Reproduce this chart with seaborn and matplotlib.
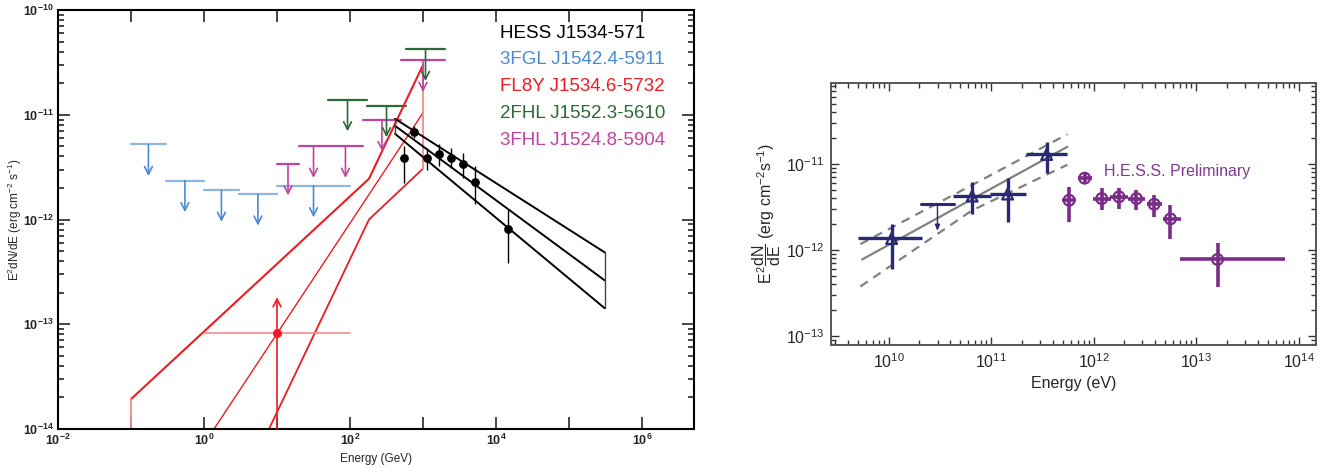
import numpy as np
import matplotlib
matplotlib.use("Agg")
import matplotlib.pyplot as plt
import matplotlib.ticker as mticker
import seaborn as sns

# ==============================
# LEFT PANEL DATA (E in GeV, E^2 dN/dE in erg cm^-2 s^-1)
# ==============================
hess_E = [550, 753, 1135, 1657, 2420, 3532, 5152, 14590]
hess_F = [3.89e-12, 6.89e-12, 3.89e-12, 4.25e-12, 3.89e-12, 3.41e-12, 2.30e-12, 8.04e-13]
hess_F_hi = [5.07e-12, 7.85e-12, 4.85e-12, 5.30e-12, 4.85e-12, 4.35e-12, 3.27e-12, 1.22e-12]
hess_F_lo = [2.25e-12, 6.04e-12, 2.99e-12, 3.27e-12, 3.13e-12, 2.51e-12, 1.42e-12, 3.81e-13]

bfly_E = [413, 3.09e5]
bfly_top = [9.16e-12, 4.85e-13]
bfly_mid = [7.85e-12, 2.62e-13]
bfly_bot = [6.59e-12, 1.42e-13]

fgl3_lo = [0.1, 0.3, 1, 3, 10]
fgl3_hi = [0.3, 1, 3, 10, 100]
fgl3_ul = [5.2e-12, 2.35e-12, 1.9e-12, 1.75e-12, 2.1e-12]

fhl3_lo = [10, 20, 50, 150, 500]
fhl3_hi = [20, 50, 150, 500, 2000]
fhl3_ul = [3.4e-12, 5.0e-12, 5.0e-12, 9.0e-12, 3.3e-11]

fhl2_lo = [50, 171, 585]
fhl2_hi = [171, 585, 2000]
fhl2_ul = [1.39e-11, 1.22e-11, 4.2e-11]

fl8y_up_E = [0.1, 0.1, 182, 1000]
fl8y_up_F = [1e-14, 1.93e-14, 2.45e-12, 2.99e-11]
fl8y_mid_E = [1.37, 1000]
fl8y_mid_F = [1e-14, 1.045e-11]
fl8y_low_E = [7.76, 182, 1000, 1000]
fl8y_low_F = [1e-14, 1.0e-12, 3.06e-12, 2.99e-11]
fl8y_pt = [10, 8.2e-14]          # E, flux
fl8y_pt_xbar = [1, 100]
fl8y_pt_vbar = [1e-14, 1.81e-13]

labels_left = ["HESS J1534-571", "3FGL J1542.4-5911", "FL8Y J1534.6-5732",
               "2FHL J1552.3-5610", "3FHL J1524.8-5904"]

# ==============================
# RIGHT PANEL DATA (E in eV)
# ==============================
fermi_E = [1.07e10, 6.53e10, 1.45e11, 3.48e11]
fermi_E_lo = [5.05e9, 4.28e10, 9.8e10, 2.18e11]
fermi_E_hi = [2.11e10, 1.0e11, 2.18e11, 5.55e11]
fermi_F = [1.36e-12, 4.23e-12, 4.47e-12, 1.29e-11]
fermi_F_lo = [6.07e-13, 2.59e-12, 2.1e-12, 7.83e-12]
fermi_F_hi = [2.01e-12, 6.13e-12, 6.84e-12, 1.8e-11]
fermi_ul_E = [2.06e10, 4.36e10]
fermi_ul_F = [3.46e-12, 1.67e-12]   # bar, arrow tip

fit_E = [5.52e9, 5.55e11]
fit_F = [7.76e-13, 1.585e-11]
fit_band_E = [5.3e9, 6.53e10, 5.55e11]
fit_band_hi = [1.17e-12, 5.7e-12, 2.22e-11]
fit_band_lo = [3.76e-13, 2.89e-12, 9.8e-12]

hr_E = [5.77e11, 8.18e11, 1.2e12, 1.77e12, 2.62e12, 3.9e12, 5.62e12, 1.62e13]
hr_E_lo = [4.9e11, 7.08e11, 9.95e11, 1.45e12, 2.17e12, 3.31e12, 4.79e12, 6.9e12]
hr_E_hi = [6.79e11, 9.6e11, 1.47e12, 2.17e12, 3.19e12, 4.68e12, 7.18e12, 7.3e13]
hr_F = [3.79e-12, 6.84e-12, 3.96e-12, 4.15e-12, 3.96e-12, 3.4e-12, 2.3e-12, 7.76e-13]
hr_F_hi = [5.45e-12, 7.76e-12, 5.21e-12, 5.21e-12, 4.97e-12, 4.35e-12, 3.31e-12, 1.22e-12]
hr_F_lo = [2.1e-12, 6.03e-12, 2.89e-12, 3.02e-12, 2.89e-12, 2.41e-12, 1.34e-12, 3.76e-13]

# ==============================
# STYLE
# ==============================
sns.set_style("ticks")
plt.rcParams["font.family"] = ["Liberation Sans", "DejaVu Sans"]
plt.rcParams["mathtext.fontset"] = "custom"
plt.rcParams["mathtext.rm"] = "Liberation Sans"
plt.rcParams["mathtext.it"] = "Liberation Sans"
plt.rcParams["mathtext.bf"] = "Liberation Sans:bold"

BLUE, BLUE_L = "#4a8ad2", "#8db6e4"
MAG, MAG_L = "#c0449e", "#d98cc6"
GREEN = "#2b6a37"
RED, RED_L = "#ec1c24", "#f38a8e"
NAVY = "#2a2a74"
PURPLE = "#7b2b88"

fig = plt.figure(figsize=(13.41, 4.68), dpi=100)
ax1 = fig.add_axes([58 / 1341, 1 - 429 / 468, 636 / 1341, 419 / 468])
ax2 = fig.add_axes([831 / 1341, 1 - 345 / 468, 485 / 1341, 262 / 468])


def upper_limit(ax, lo, hi, flux, color, bar_color):
    xc = np.sqrt(lo * hi)
    ax.plot([lo, hi], [flux, flux], color=bar_color, lw=1.6)
    ax.annotate("", xy=(xc, flux * 0.5), xytext=(xc, flux),
                arrowprops=dict(arrowstyle="->,head_length=0.55,head_width=0.28",
                                color=color, lw=1.2, shrinkA=0, shrinkB=0))


# ==============================
# LEFT PANEL
# ==============================
for lo, hi, f in zip(fgl3_lo, fgl3_hi, fgl3_ul):
    upper_limit(ax1, lo, hi, f, BLUE, BLUE_L)
for lo, hi, f in zip(fhl3_lo, fhl3_hi, fhl3_ul):
    upper_limit(ax1, lo, hi, f, MAG, MAG)
for lo, hi, f in zip(fhl2_lo, fhl2_hi, fhl2_ul):
    upper_limit(ax1, lo, hi, f, GREEN, GREEN)

# FL8Y butterfly
ax1.plot(fl8y_up_E[1:], fl8y_up_F[1:], color=RED, lw=1.5)
ax1.plot(fl8y_up_E[:2], fl8y_up_F[:2], color=RED_L, lw=1.3)
ax1.plot(fl8y_mid_E, fl8y_mid_F, color=RED, lw=1.0)
ax1.plot(fl8y_low_E[:-1], fl8y_low_F[:-1], color=RED, lw=1.3)
ax1.plot(fl8y_low_E[-2:], fl8y_low_F[-2:], color=RED_L, lw=1.3)
ax1.plot(fl8y_pt_xbar, [fl8y_pt[1]] * 2, color=RED_L, lw=1.2)
ax1.annotate("", xy=(fl8y_pt[0], fl8y_pt_vbar[1]), xytext=(fl8y_pt[0], fl8y_pt_vbar[0]),
             arrowprops=dict(arrowstyle="->,head_length=0.55,head_width=0.28",
                             color=RED, lw=1.2, shrinkA=0, shrinkB=0))
ax1.plot(fl8y_pt[0], fl8y_pt[1], "o", color=RED, ms=5.5)

# HESS butterfly
ax1.plot(bfly_E, bfly_top, color="black", lw=1.4)
ax1.plot(bfly_E, bfly_mid, color="black", lw=1.4)
ax1.plot(bfly_E, bfly_bot, color="black", lw=1.4)
for i in range(2):
    ax1.plot([bfly_E[i]] * 2, [bfly_bot[i], bfly_top[i]], color="#444444", lw=1.0)

# HESS points
e = np.array(hess_E)
f = np.array(hess_F)
ax1.errorbar(e, f, yerr=[f - np.array(hess_F_lo), np.array(hess_F_hi) - f],
             fmt="none", ecolor="black", elinewidth=1.0, capsize=0)
sns.scatterplot(x=hess_E, y=hess_F, color="black", s=40, edgecolor="black",
                linewidth=0, ax=ax1, zorder=5)

ax1.set_xscale("log")
ax1.set_yscale("log")
ax1.set_xlim(1e-2, 5.15e6)
ax1.set_ylim(1e-14, 1e-10)
ax1.xaxis.set_major_locator(mticker.LogLocator(base=10, numticks=20))
ax1.xaxis.set_minor_locator(mticker.NullLocator())
ax1.yaxis.set_major_locator(mticker.LogLocator(base=10, numticks=20))
ax1.yaxis.set_minor_locator(mticker.LogLocator(base=10, subs=np.arange(2, 10), numticks=20))


def fmt_x(v, pos):
    k = int(round(np.log10(v)))
    return r"$\mathbf{10^{%d}}$" % k if k % 2 == 0 else ""


def fmt_y(v, pos):
    k = int(round(np.log10(v)))
    return r"$\mathbf{10^{%d}}$" % k


ax1.xaxis.set_major_formatter(mticker.FuncFormatter(fmt_x))
ax1.yaxis.set_major_formatter(mticker.FuncFormatter(fmt_y))
ax1.tick_params(which="both", direction="in", top=True, right=True, labelsize=9, width=1.2)
ax1.tick_params(which="major", length=8.5, pad=3)
ax1.tick_params(which="minor", length=4.5)
for sp in ax1.spines.values():
    sp.set_linewidth(1.5)
    sp.set_color("black")
ax1.set_xlabel("Energy (GeV)", fontsize=8.5, labelpad=3)
ax1.set_ylabel(r"E$^2$dN/dE (erg cm$^{-2}$ s$^{-1}$)", fontsize=8.5, va="center")
ax1.yaxis.set_label_coords(-0.068, 0.5)

for i, (txt, col) in enumerate(zip(labels_left, ["black", BLUE, RED, GREEN, MAG])):
    fig.text(500 / 1341, 1 - (33 + 26.8 * i) / 468, txt, color=col, fontsize=13.5, va="center")

# ==============================
# RIGHT PANEL
# ==============================
sns.lineplot(x=fit_E, y=fit_F, color="#808080", lw=1.6, ax=ax2)
sns.lineplot(x=fit_band_E, y=fit_band_hi, color="#808080", lw=1.6, ls=(0, (4, 3)), ax=ax2)
sns.lineplot(x=fit_band_E, y=fit_band_lo, color="#808080", lw=1.6, ls=(0, (4, 3)), ax=ax2)

fe = np.array(fermi_E)
ff = np.array(fermi_F)
ax2.errorbar(fe, ff, xerr=[fe - np.array(fermi_E_lo), np.array(fermi_E_hi) - fe],
             yerr=[ff - np.array(fermi_F_lo), np.array(fermi_F_hi) - ff],
             fmt="none", ecolor=NAVY, elinewidth=2.4, capsize=0)
sns.scatterplot(x=fermi_E, y=fermi_F, marker="^", s=60, facecolor="none",
                edgecolor=NAVY, linewidth=1.6, ax=ax2, zorder=5)
ax2.plot(fermi_ul_E, [fermi_ul_F[0]] * 2, color=NAVY, lw=2.2)
xc = np.sqrt(fermi_ul_E[0] * fermi_ul_E[1])
ax2.annotate("", xy=(xc, fermi_ul_F[1]), xytext=(xc, fermi_ul_F[0]),
             arrowprops=dict(arrowstyle="-|>,head_length=0.35,head_width=0.15",
                             color=NAVY, lw=1.0, shrinkA=0, shrinkB=0))

he = np.array(hr_E)
hf = np.array(hr_F)
ax2.errorbar(he, hf, xerr=[he - np.array(hr_E_lo), np.array(hr_E_hi) - he],
             yerr=[hf - np.array(hr_F_lo), np.array(hr_F_hi) - hf],
             fmt="none", ecolor=PURPLE, elinewidth=2.6, capsize=0)
sns.scatterplot(x=hr_E, y=hr_F, marker="o", s=60, facecolor="none",
                edgecolor=PURPLE, linewidth=1.6, ax=ax2, zorder=5)
ax2.text(1.25e12, 8.2e-12, "H.E.S.S. Preliminary", color="#7e3a8e", fontsize=11.5, va="center")

ax2.set_xscale("log")
ax2.set_yscale("log")
ax2.set_xlim(2.74e9, 1.48e14)
ax2.set_ylim(7.85e-14, 8.75e-11)
for axis in (ax2.xaxis, ax2.yaxis):
    axis.set_major_locator(mticker.LogLocator(base=10, numticks=20))
    axis.set_minor_locator(mticker.LogLocator(base=10, subs=np.arange(2, 10), numticks=20))
ax2.tick_params(which="both", direction="in", top=True, right=True, labelsize=11.5,
                color="#333333", width=1.0)
ax2.tick_params(which="major", length=6, pad=5)
ax2.tick_params(which="minor", length=3.5)
for sp in ax2.spines.values():
    sp.set_linewidth(1.4)
    sp.set_color("#555555")
ax2.set_xlabel("Energy (eV)", fontsize=11.5, labelpad=4)
ax2.set_ylabel(r"$E^{2}\dfrac{dN}{dE}$ (erg cm$^{-2}$s$^{-1}$)", fontsize=11.5, labelpad=2)

fig.savefig("out.png", dpi=100)
